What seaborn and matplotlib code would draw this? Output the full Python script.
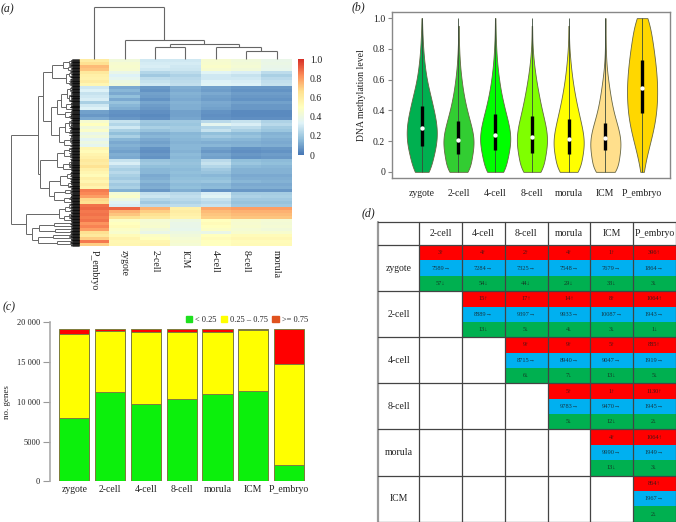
import numpy as np
import pandas as pd
import matplotlib
matplotlib.use("Agg")
import matplotlib.pyplot as plt
from matplotlib.colors import LinearSegmentedColormap, ListedColormap
from matplotlib.patches import Patch
import seaborn as sns

W, H = 676, 522

# panel a, one list per column, top row first
heat_cols = ["P_embryo", "zygote", "2-cell", "ICM", "4-cell", "8-cell", "morula"]
p_embryo = [.60, .66, .74, .72, .62, .58, .57, .60, .55, .30, .33, .28, .30, .32, .22, .30, .33, .10, .08, .12, .45,
            .50, .42, .47, .38, .42, .35, .40, .36, .55, .52, .56, .58, .62, .60, .65, .58, .55, .52, .58, .55, .60,
            .56, .86, .84, .80, .68, .66, .88, .90, .87, .88, .86, .88, .82, .85, .80, .66, .62, .70, .87, .70]
zygote = [.42, .45, .46, .45, .38, .33, .36, .40, .42, .12, .15, .12, .17, .12, .18, .15, .13, .07, .06, .08, .28,
          .24, .30, .22, .17, .22, .15, .12, .14, .12, .10, .13, .12, .28, .32, .25, .22, .25, .22, .20, .24, .20,
          .22, .14, .44, .47, .40, .34, .32, .90, .76, .72, .66, .48, .50, .52, .48, .46, .52, .56, .54, .55]
two_cell = [.30, .31, .32, .30, .24, .20, .26, .28, .30, .08, .07, .10, .09, .07, .11, .09, .08, .06, .05, .06, .20,
            .18, .22, .18, .13, .15, .12, .10, .12, .07, .06, .08, .07, .18, .20, .17, .15, .15, .12, .13, .15, .12,
            .13, .08, .27, .29, .24, .20, .25, .76, .70, .66, .62, .44, .45, .46, .42, .38, .48, .50, .55, .56]
icm = [.30, .31, .30, .29, .26, .23, .25, .26, .27, .13, .12, .14, .13, .12, .14, .13, .13, .10, .10, .11, .20,
       .19, .21, .20, .15, .16, .15, .14, .15, .15, .14, .16, .15, .17, .18, .17, .16, .17, .16, .17, .18, .16,
       .17, .13, .25, .27, .25, .23, .26, .58, .60, .58, .56, .40, .38, .38, .37, .40, .42, .44, .45, .44]
four_cell = [.45, .46, .47, .45, .34, .30, .30, .33, .34, .10, .09, .12, .10, .09, .12, .11, .10, .07, .06, .07, .25,
             .36, .24, .28, .17, .20, .16, .13, .15, .10, .08, .11, .10, .25, .28, .24, .20, .18, .15, .17, .19, .15,
             .16, .07, .32, .34, .28, .25, .28, .78, .74, .72, .70, .50, .52, .50, .48, .38, .50, .52, .50, .50]
eight_cell = [.42, .43, .44, .42, .32, .28, .30, .32, .33, .08, .07, .09, .08, .07, .10, .08, .08, .05, .05, .06, .28,
              .32, .26, .22, .16, .18, .15, .13, .14, .07, .06, .08, .07, .17, .19, .16, .14, .14, .12, .13, .15, .12,
              .13, .08, .21, .23, .20, .18, .20, .80, .76, .74, .72, .46, .45, .46, .44, .46, .52, .54, .52, .53]
morula = [.38, .39, .38, .37, .26, .22, .25, .27, .28, .08, .07, .09, .08, .07, .10, .08, .08, .05, .05, .06, .23,
          .25, .21, .19, .14, .15, .13, .12, .13, .08, .07, .09, .08, .16, .17, .15, .14, .14, .12, .13, .14, .12,
          .13, .08, .21, .22, .20, .18, .20, .80, .76, .74, .72, .44, .43, .44, .42, .46, .52, .54, .52, .53]

# dendrograms: (merge height, child, child), a bare int is a leaf of that many rows
col_tree = (52, 1, (19, 1, (15, (12.7, 1, 1), (12.7, 1, (8.7, 1, 1)))))
row_tree = (68,
            (41,
             (36,
              (27, (16, (10, 1, 1), (11, 1, 1)), (13, (10, 1, 1), (9, 2, 1))),
              (28,
               (22, (18, (12, (9, 1, 1), (10, 2, 1)), (13, 2, 1)), (14, 1, 2)),
               (20, (14, (10, 1, 2), (9, 1, 1)), (15, (9, 2, 1), 1)))),
             (39,
              (22, (15, (10, 1, 1), (9, 1, 1)), (16, (10, 2, 1), 1)),
              (30, (19, (12, 2, 1), (11, 2, 1)), (25, (14, 1, 1), (15, 2, 1))))),
            (53,
             (20, (14, (10, 1, 1), 1), (15, (10, 1, 1), 1)),
             (47, (40, (25, 1, 1), (24, 1, 1)), (41, (26, 1, 1), (22, 1, 1)))))
leaf_lengths = [7, 8, 7, 7, 9, 7, 8, 7, 10, 7, 7, 8, 7, 7, 9, 7, 7]

# panel b
stages = ["zygote", "2-cell", "4-cell", "8-cell", "morula", "ICM", "P_embryo"]
levels = [0, .05, .1, .15, .2, .25, .3, .35, .4, .45, .5, .55, .6, .65, .7, .75, .8, .85, .9, .95, 1]
violin_counts = {
    "zygote": [30, 27, 34, 40, 44, 45, 44, 40, 35, 30, 25, 19, 14, 11, 8, 6, 4, 3, 2, 1, 1],
    "2-cell": [40, 33, 38, 43, 45, 42, 36, 30, 24, 19, 15, 11, 9, 6, 4, 3, 2, 1, 1, 1, 0],
    "4-cell": [36, 30, 36, 42, 45, 44, 40, 34, 28, 23, 18, 14, 11, 8, 6, 4, 3, 2, 1, 1, 1],
    "8-cell": [38, 33, 38, 43, 45, 44, 40, 34, 29, 24, 20, 16, 12, 9, 6, 4, 2, 1, 1, 1, 0],
    "morula": [40, 33, 39, 44, 45, 42, 37, 32, 27, 22, 18, 14, 11, 8, 6, 4, 2, 1, 1, 1, 0],
    "ICM": [42, 35, 40, 44, 45, 41, 35, 28, 22, 18, 14, 11, 8, 5, 3, 2, 1, 1, 1, 0, 1],
    "P_embryo": [5, 8, 13, 19, 25, 31, 36, 40, 43, 44, 45, 45, 44, 42, 40, 37, 34, 31, 27, 23, 24],
}
box_low = [.17, .115, .145, .125, .115, .14, .38]
box_mid = [.285, .205, .24, .23, .215, .22, .545]
box_high = [.43, .33, .375, .365, .345, .315, .73]
violin_colors = ["#00b050", "#32cd32", "#00ff00", "#7fff00", "#ffff00", "#ffdf8c", "#ffd700"]

# panel c
low_genes = [7950, 11250, 9700, 10350, 11000, 11400, 2050]
mid_top = [18500, 18850, 18800, 18750, 18800, 19050, 14800]
all_top = [19200, 19200, 19200, 19200, 19200, 19200, 19200]

# panel d
table_cols = ["2-cell", "4-cell", "8-cell", "morula", "ICM", "P_embryo"]
table_rows = ["zygote", "2-cell", "4-cell", "8-cell", "morula", "ICM"]
up_counts = [[3, 4, 2, 4, 1, 396],
             [None, 15, 17, 14, 8, 1064],
             [None, None, 9, 9, 5, 885],
             [None, None, None, 5, 1, 1130],
             [None, None, None, None, 4, 1064],
             [None, None, None, None, None, 864]]
flat_counts = [[7589, 7284, 7325, 7548, 7679, 1864],
               [None, 8889, 9397, 9933, 10087, 1943],
               [None, None, 8715, 8940, 9047, 1919],
               [None, None, None, 9783, 9470, 1945],
               [None, None, None, None, 9990, 1949],
               [None, None, None, None, None, 1967]]
down_counts = [[57, 54, 44, 29, 33, 3],
               [None, 13, 5, 4, 3, 1],
               [None, None, 6, 7, 13, 5],
               [None, None, None, 5, 12, 2],
               [None, None, None, None, 13, 3],
               [None, None, None, None, None, 2]]

sns.set_theme(style="white")
plt.rcParams["font.family"] = ["Liberation Serif", "DejaVu Sans"]


def px_axes(fig, x0, y0, x1, y1):
    """Make axes from pixel edges, y counted from the top."""
    return fig.add_axes([x0 / W, 1 - y1 / H, (x1 - x0) / W, (y1 - y0) / H])


def draw_tree(ax, node, start, vertical, leaf_h=0.0):
    """Draw a nested merge tree, return (position, height, next free slot)."""
    def seg(p0, h0, p1, h1):
        if vertical:
            ax.plot([p0, p1], [h0, h1], color="#666666", lw=0.8, clip_on=False, solid_capstyle="butt")
        else:
            ax.plot([h0, h1], [p0, p1], color="#666666", lw=0.7, clip_on=False, solid_capstyle="butt")

    if isinstance(node, (int, np.integer)):
        mid = start + node / 2
        if leaf_h:
            seg(start + 0.1, leaf_h, start + node - 0.1, leaf_h)
            # leaves of the row tree, packed so tight they read as a black strip
            leaf_y = np.arange(start, start + node, 0.15)
            for i, y in enumerate(leaf_y):
                size = leaf_lengths[(int(start * 3) + i) % len(leaf_lengths)]
                ax.plot([0, size], [y, y], color="black", lw=0.45, clip_on=False)
        return mid, leaf_h, start + node
    height, left, right = node
    p0, h0, nxt = draw_tree(ax, left, start, vertical, leaf_h)
    p1, h1, nxt = draw_tree(ax, right, nxt, vertical, leaf_h)
    seg(p0, h0, p0, height)
    seg(p1, h1, p1, height)
    seg(p0, height, p1, height)
    return (p0 + p1) / 2, height, nxt


fig = plt.figure(figsize=(W / 100, H / 100), dpi=100, facecolor="white")

# (a) clustered heatmap
heat = pd.DataFrame(dict(zip(heat_cols, [p_embryo, zygote, two_cell, icm, four_cell, eight_cell, morula])))
cmap = LinearSegmentedColormap.from_list(
    "pheat", ["#4575b4", "#91bfdb", "#e0f3f8", "#ffffbf", "#fee090", "#fc8d59", "#d73027"])
ax_heat = px_axes(fig, 79, 59.3, 291.7, 246)
ax_cbar = px_axes(fig, 298, 59.3, 304.3, 155)
sns.heatmap(heat, ax=ax_heat, cbar_ax=ax_cbar, cmap=cmap, vmin=0, vmax=1, yticklabels=False)
ax_heat.tick_params(axis="x", length=0, pad=3, labelsize=7, colors="#222222")
plt.setp(ax_heat.get_xticklabels(), rotation=270, ha="center", va="top")
ax_cbar.set_yticks([0, .2, .4, .6, .8, 1], ["0", "0.2", "0.4", "0.6", "0.8", "1.0"])
ax_cbar.tick_params(length=0, pad=4, labelsize=7, colors="#222222")
ax_heat.collections[0].colorbar.outline.set_visible(False)

ax_top = px_axes(fig, 79, 7, 291.7, 59.3)
ax_top.set_xlim(0, 7)
ax_top.set_ylim(0, 52.3)
draw_tree(ax_top, col_tree, 0, True)
ax_top.axis("off")

ax_side = px_axes(fig, 11, 59.3, 79, 246)
ax_side.set_xlim(68, 0)
ax_side.set_ylim(62, 0)
draw_tree(ax_side, row_tree, 0, False, leaf_h=8)
ax_side.axis("off")

# (b) violins, the counts are the density read at each level
violin_df = pd.concat(
    [pd.DataFrame({"stage": s, "level": np.repeat(levels, violin_counts[s])}) for s in stages], ignore_index=True)
ax_v = px_axes(fig, 392, 12, 670, 178)
sns.violinplot(data=violin_df, x="stage", y="level", hue="stage", order=stages, hue_order=stages,
               palette=violin_colors, cut=0, density_norm="width", width=0.82, inner=None, bw_method=0.3,
               linewidth=0.6, linecolor="#666644", legend=False, saturation=1, ax=ax_v)
pos = np.arange(len(stages))
ax_v.vlines(pos, 0, 1, color="#3a4a3a", lw=0.6)
ax_v.vlines(pos, box_low, box_high, color="black", lw=2.4)
ax_v.scatter(pos, box_mid, s=10, color="white", zorder=5, linewidths=0)
ax_v.set_xlim(-0.81, 6.76)
ax_v.set_ylim(-0.04, 1.04)
ax_v.set_yticks([0, .2, .4, .6, .8, 1], ["0", "0.2", "0.4", "0.6", "0.8", "1.0"])
ax_v.set_xlabel("")
ax_v.set_ylabel("DNA methylation level", fontsize=7, color="#222222", labelpad=5)
ax_v.tick_params(axis="y", left=True, length=3, width=0.8, color="#888888", labelsize=7, labelcolor="#222222", pad=2)
ax_v.tick_params(axis="x", length=0, labelsize=7, labelcolor="#222222", pad=8)
for sp in ax_v.spines.values():
    sp.set_color("#888888")
    sp.set_linewidth(1)

# (c) stacked bars, overdrawn from tallest to shortest
ax_c = px_axes(fig, 50, 322.3, 312, 481.3)
bar_edge = "#7d7d3c"
for tops, col in [(all_top, "#ff0000"), (mid_top, "#ffff00"), (low_genes, "#0cf00c")]:
    sns.barplot(x=stages, y=tops, color=col, saturation=1, width=0.84, edgecolor=bar_edge, linewidth=0.7, ax=ax_c)
ax_c.set_xlim(-0.68, 6.64)
ax_c.set_ylim(0, 20000)
ax_c.set_yticks([0, 5000, 10000, 15000, 20000], ["0", "5000", "10 000", "15 000", "20 000"])
ax_c.set_ylabel("no. genes", fontsize=6.5, color="#222222")
ax_c.yaxis.set_label_coords(-0.149, 0.5)
ax_c.tick_params(axis="y", left=True, length=5, width=0.8, color="#999999", labelsize=6, labelcolor="#222222", pad=2)
ax_c.tick_params(axis="x", length=0, labelsize=7, labelcolor="#222222", pad=3)
sns.despine(ax=ax_c, bottom=True)
ax_c.spines["left"].set_color("#aaaaaa")
ax_c.spines["left"].set_linewidth(1.2)
ax_c.legend(handles=[Patch(color="#1ee01e", label="< 0.25"), Patch(color="#ffff00", label="0.25 \u2013 0.75"),
                     Patch(color="#e0521f", label=">= 0.75")],
            ncol=3, frameon=False, fontsize=6, loc="lower right", bbox_to_anchor=(1.0, 0.965),
            handlelength=0.8, handleheight=0.8, handletextpad=0.35, columnspacing=0.45, borderpad=0, labelcolor="#222222")

# (d) table, three coloured sub rows per stage
codes, labels = [], []
for i in range(len(table_rows)):
    for k, (block, arrow) in enumerate([(up_counts, "\u2191"), (flat_counts, "\u2192"), (down_counts, "\u2193")]):
        codes.append([np.nan if v is None else k for v in block[i]])
        labels.append(["" if v is None else f"{v}{arrow}" for v in block[i]])
codes = np.array(codes, dtype=float)
ax_t = px_axes(fig, 378, 221.7, 675.7, 521.7)
sns.heatmap(codes, mask=np.isnan(codes), annot=np.array(labels), fmt="", cbar=False, vmin=0, vmax=2,
            cmap=ListedColormap(["#ff0000", "#00b0f0", "#00b050"]), xticklabels=False, yticklabels=False,
            annot_kws={"size": 4.6, "color": "#1a1a1a", "alpha": 0.8}, ax=ax_t)
ax_t.set_xlim(-0.97, 6)
ax_t.set_ylim(18, -1.52)
ax_t.set_facecolor("white")
for j, name in enumerate(table_cols):
    ax_t.text(j + 0.5, -0.76, name, ha="center", va="center", fontsize=7, color="#222222")
for i, name in enumerate(table_rows):
    ax_t.text(-0.485, 3 * i + 1.5, name, ha="center", va="center", fontsize=7, color="#222222")
grid_x = np.arange(-1, 7)
grid_y = [-1.52] + list(range(0, 19, 3))
for n, x in enumerate(grid_x):
    ax_t.plot([max(x, -0.97)] * 2, [-1.52, 18], color="#999999" if n == 0 else "#444444",
              lw=1.6 if n == 0 else 0.9, clip_on=False)
for y in grid_y:
    ax_t.plot([-0.97, 6], [y, y], color="#444444", lw=0.9, clip_on=False)
for sp in ax_t.spines.values():
    sp.set_visible(False)

# panel letters
for letter, x, y in [("(a)", 1, 9), ("(b)", 352, 7), ("(c)", 3, 307), ("(d)", 362, 213)]:
    fig.text(x / W, 1 - y / H, letter, style="italic", fontsize=8.5, va="center", color="#222222")

fig.savefig("out.png", dpi=100)
